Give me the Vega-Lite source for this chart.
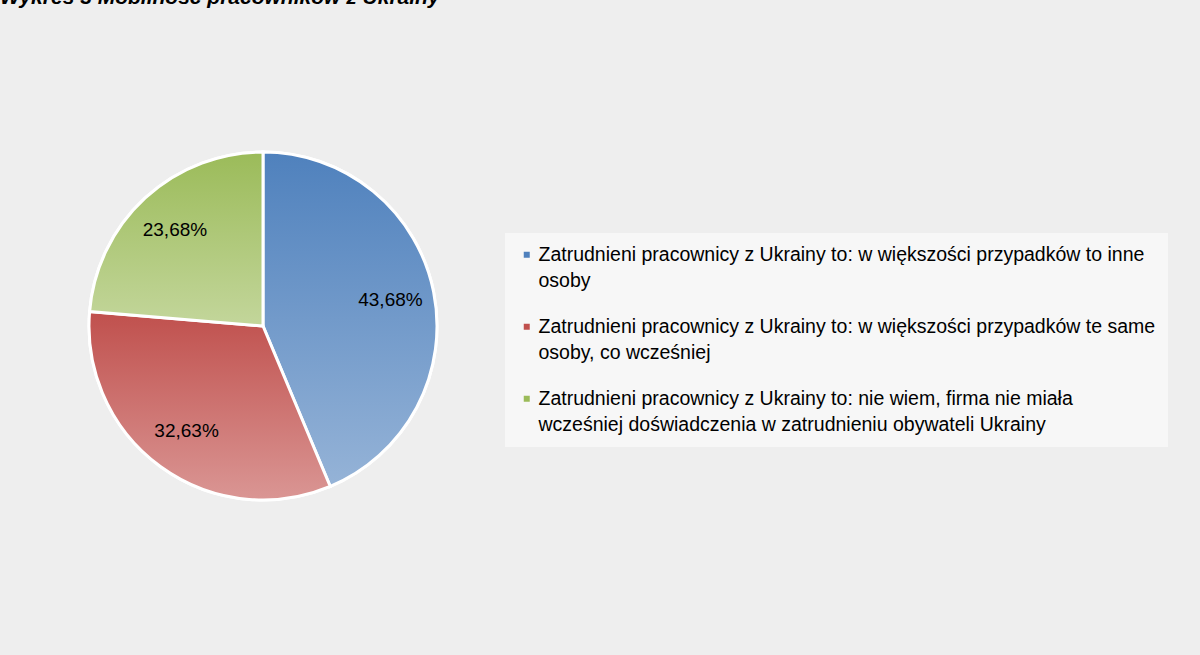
{
  "$schema": "https://vega.github.io/schema/vega-lite/v6.json",
  "autosize": {"type": "none"},
  "width": 510,
  "height": 632,
  "padding": {"left": 8, "top": 10, "right": 682, "bottom": 13},
  "background": "#eeeeee",
  "title": {
    "text": "Wykres 3 Mobilność pracowników z Ukrainy",
    "anchor": "start",
    "frame": "group",
    "orient": "top",
    "offset": -15,
    "dx": -8,
    "font": "Liberation Sans",
    "fontSize": 21,
    "fontStyle": "italic",
    "fontWeight": "bold",
    "baseline": "alphabetic",
    "color": "#000000"
  },
  "data": {
    "values": [
      {"cat": "Zatrudnieni pracownicy z Ukrainy to: w większości przypadków to inne osoby", "value": 0.4368, "idx": 1},
      {"cat": "Zatrudnieni pracownicy z Ukrainy to: w większości przypadków te same osoby, co wcześniej", "value": 0.3263, "idx": 2},
      {"cat": "Zatrudnieni pracownicy z Ukrainy to: nie wiem, firma nie miała wcześniej doświadczenia w zatrudnieniu obywateli Ukrainy", "value": 0.2368, "idx": 3}
    ]
  },
  "transform": [
    {"stack": "value", "groupby": [], "as": ["s0", "s1"], "sort": [{"field": "idx", "order": "ascending"}]}
  ],
  "layer": [
    {
      "mark": {"type": "arc", "outerRadius": 174, "stroke": "#ffffff", "strokeWidth": 3},
      "encoding": {
        "theta": {"field": "s0", "type": "quantitative"},
        "theta2": {"field": "s1"},
        "color": {
          "field": "cat",
          "type": "nominal",
          "sort": {"field": "idx"},
          "scale": {"range": ["#4F81BD", "#C0504D", "#9BBB59"]},
          "legend": {
            "title": null,
            "orient": "none",
            "legendX": 497,
            "legendY": 223,
            "padding": 12,
            "fillColor": "rgba(255,255,255,0.55)",
            "symbolType": "square",
            "symbolSize": 36,
            "symbolStrokeWidth": 0,
            "labelFont": "Liberation Sans",
            "labelFontSize": 19.5,
            "labelColor": "#000000",
            "labelLimit": 800,
            "labelOffset": 2,
            "rowPadding": 25,
            "labelBaseline": "middle",
            "labelExpr": "datum.label == 'Zatrudnieni pracownicy z Ukrainy to: w większości przypadków to inne osoby' ? ['Zatrudnieni pracownicy z Ukrainy to: w większości przypadków to inne', 'osoby'] : datum.label == 'Zatrudnieni pracownicy z Ukrainy to: w większości przypadków te same osoby, co wcześniej' ? ['Zatrudnieni pracownicy z Ukrainy to: w większości przypadków te same', 'osoby, co wcześniej'] : ['Zatrudnieni pracownicy z Ukrainy to: nie wiem, firma nie miała', 'wcześniej doświadczenia w zatrudnieniu obywateli Ukrainy']"
          }
        }
      }
    },
    {
      "transform": [{"filter": "datum.idx == 1"}],
      "mark": {
        "type": "arc", "outerRadius": 174, "stroke": "#ffffff", "strokeWidth": 3,
        "fill": {"gradient": "linear", "x1": 0, "y1": 0, "x2": 0, "y2": 1, "stops": [{"offset": 0, "color": "#4F81BD"}, {"offset": 1, "color": "#95B3D7"}]}
      },
      "encoding": {
        "theta": {"field": "s0", "type": "quantitative"},
        "theta2": {"field": "s1"}
      }
    },
    {
      "transform": [{"filter": "datum.idx == 2"}],
      "mark": {
        "type": "arc", "outerRadius": 174, "stroke": "#ffffff", "strokeWidth": 3,
        "fill": {"gradient": "linear", "x1": 0, "y1": 0, "x2": 0, "y2": 1, "stops": [{"offset": 0, "color": "#C0504D"}, {"offset": 1, "color": "#DA9694"}]}
      },
      "encoding": {
        "theta": {"field": "s0", "type": "quantitative"},
        "theta2": {"field": "s1"}
      }
    },
    {
      "transform": [{"filter": "datum.idx == 3"}],
      "mark": {
        "type": "arc", "outerRadius": 174, "stroke": "#ffffff", "strokeWidth": 3,
        "fill": {"gradient": "linear", "x1": 0, "y1": 0, "x2": 0, "y2": 1, "stops": [{"offset": 0, "color": "#9BBB59"}, {"offset": 1, "color": "#C3D69B"}]}
      },
      "encoding": {
        "theta": {"field": "s0", "type": "quantitative"},
        "theta2": {"field": "s1"}
      }
    },
    {
      "mark": {"type": "text", "radius": 130, "font": "Liberation Sans", "fontSize": 19, "color": "#000000", "align": "center", "baseline": "middle"},
      "encoding": {
        "theta": {"field": "value", "type": "quantitative", "stack": true},
        "order": {"field": "idx", "type": "quantitative"},
        "text": {"field": "value", "type": "quantitative", "format": ".2%"}
      }
    }
  ],
  "config": {
    "view": {"stroke": null},
    "locale": {"number": {"decimal": ",", "thousands": " ", "grouping": [3], "currency": ["", " zł"]}},
    "style": {"guide-label": {"lineHeight": 26}}
  }
}
